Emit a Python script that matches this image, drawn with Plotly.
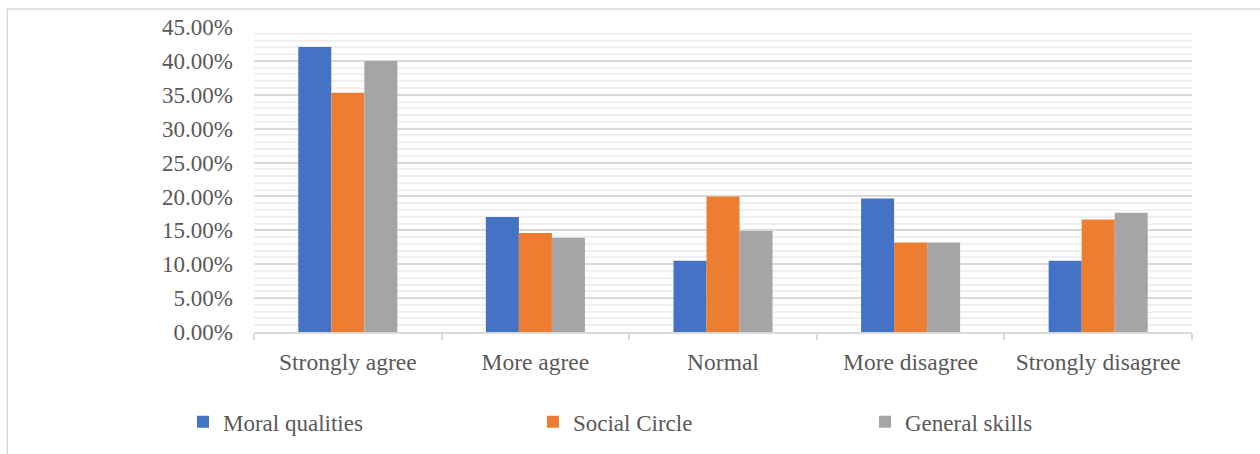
import plotly.graph_objects as go

categories = ["Strongly agree", "More agree", "Normal", "More disagree", "Strongly disagree"]
moral_qualities = [0.4206, 0.1696, 0.1050, 0.1970, 0.1050]
social_circle = [0.3529, 0.1460, 0.2000, 0.1320, 0.1660]
general_skills = [0.4000, 0.1390, 0.1490, 0.1320, 0.1760]

series = [
    ("Moral qualities", moral_qualities, "#4472C4", "legend"),
    ("Social Circle", social_circle, "#ED7D31", "legend2"),
    ("General skills", general_skills, "#A5A5A5", "legend3"),
]
legend_x = {"legend": -0.0757, "legend2": 0.2974, "legend3": 0.6514}

FONT = "Liberation Serif"
TEXT = "#595959"

fig = go.Figure()
for name, vals, color, leg in series:
    fig.add_trace(go.Bar(name=name, x=categories, y=vals, legend=leg,
                         marker=dict(color=color, line=dict(width=0))))

legend_style = dict(
    orientation="h", xanchor="left", y=-0.29, yanchor="middle", itemwidth=30,
    font=dict(family=FONT, size=23, color=TEXT), bgcolor="rgba(0,0,0,0)",
)

fig.update_layout(
    width=1260, height=454,
    margin=dict(l=254, r=68, t=27, b=121),
    paper_bgcolor="white", plot_bgcolor="white",
    barmode="group", bargap=0.472, bargroupgap=0,
    font=dict(family=FONT, size=23, color=TEXT),
    showlegend=True,
    legend=dict(x=legend_x["legend"], **legend_style),
    legend2=dict(x=legend_x["legend2"], **legend_style),
    legend3=dict(x=legend_x["legend3"], **legend_style),
)

fig.update_yaxes(
    range=[0, 0.45], dtick=0.05, tickformat=".2%",
    showgrid=True, gridcolor="#d9d9d9", gridwidth=1.5,
    minor=dict(dtick=0.01, showgrid=True, gridcolor="#f0f0f0", gridwidth=1.5),
    showline=False, zeroline=False, ticks="", ticklabelstandoff=20,
    tickfont=dict(family=FONT, size=23, color=TEXT),
)
fig.update_xaxes(
    showline=True, linecolor="#d9d9d9", linewidth=1.5,
    ticks="outside", tickson="boundaries", ticklen=6, tickcolor="#d9d9d9", tickwidth=1.5,
    ticklabelstandoff=8,
    tickfont=dict(family=FONT, size=23.5, color=TEXT),
)

# Chart-area frame (extends past the page on the right and bottom)
fig.add_shape(
    type="rect", xref="paper", yref="paper",
    x0=-0.263, x1=1.2, y0=-0.5, y1=1.059,
    line=dict(color="#d9d9d9", width=1.5), fillcolor="rgba(0,0,0,0)", layer="below",
)

fig.write_html("out.html")
